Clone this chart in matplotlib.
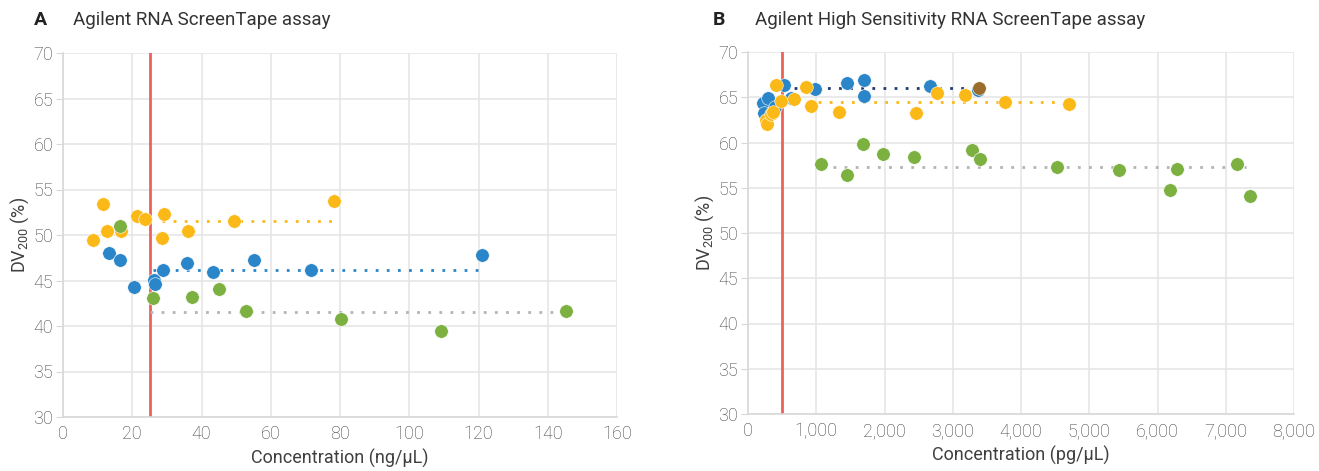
import numpy as np
import matplotlib.pyplot as plt

plt.rcParams['font.family'] = ['Roboto', 'DejaVu Sans']
plt.rcParams['font.weight'] = 'light'

# Panel A: Agilent RNA ScreenTape (ng/uL)
a_yellow_x = [8.7, 11.6, 12.7, 16.8, 21.4, 23.7, 29.2, 28.6, 36.1, 49.4, 78.3]
a_yellow_y = [49.5, 53.4, 50.4, 50.4, 52.1, 51.8, 52.3, 49.7, 50.4, 51.5, 53.7]
a_blue_x = [13.3, 16.5, 20.5, 26.3, 26.6, 28.9, 35.8, 43.3, 55.2, 71.6, 121.0]
a_blue_y = [48.0, 47.3, 44.3, 45.1, 44.6, 46.2, 46.9, 45.9, 47.3, 46.1, 47.8]
a_green_x = [16.5, 26.0, 37.3, 45.1, 52.9, 80.3, 109.2, 145.3]
a_green_y = [51.0, 43.1, 43.2, 44.1, 41.6, 40.8, 39.5, 41.6]
a_means = [(28.5, 78.5, 51.5), (26.0, 121.0, 46.2), (25.0, 145.0, 41.5)]
a_cutoff = 25

# Panel B: Agilent High Sensitivity RNA ScreenTape (pg/uL)
b_blue_x = [215, 297, 234, 396, 532, 626, 982, 1446, 1700, 1704, 2667, 3374]
b_blue_y = [64.4, 64.9, 63.3, 63.9, 66.3, 64.9, 65.9, 66.6, 66.9, 65.1, 66.2, 65.8]
b_yellow_x = [405, 264, 274, 340, 370, 488, 674, 850, 928, 1338, 2462, 2774, 3184, 3766, 4703]
b_yellow_y = [66.3, 62.5, 62.0, 63.1, 63.4, 64.6, 64.8, 66.1, 64.0, 63.4, 63.3, 65.5, 65.2, 64.5, 64.2]
b_green_x = [1065, 1455, 1680, 1973, 2432, 3277, 3399, 4532, 5436, 6188, 6281, 7165, 7355]
b_green_y = [57.6, 56.4, 59.8, 58.7, 58.4, 59.2, 58.2, 57.3, 57.0, 54.7, 57.1, 57.6, 54.1]
b_overlap_x = [3380]
b_overlap_y = [66.0]
b_means = [(510, 3370, 66.0), (860, 4600, 64.5), (1240, 7300, 57.3)]
b_cutoff = 500

BLUE = '#2a86c8'
YELLOW = '#fbb918'
GREEN = '#7cb040'
RED = '#f0605a'
GRAY = '#b4b4b4'
NAVY = '#1f3a70'
TXT = '#404040'

fig = plt.figure(figsize=(13.19, 4.71), dpi=100)
axA = fig.add_axes([63/1319, 1-417/471, 554/1319, 364/471])
axB = fig.add_axes([748/1319, 1-414/471, 546/1319, 362/471])


def style(ax, xlim, xticks, xlabels, xlabel):
    ax.set_xlim(*xlim)
    ax.set_ylim(30, 70)
    ax.set_xticks(xticks)
    ax.set_xticklabels(xlabels)
    ax.set_yticks(range(30, 71, 5))
    ax.grid(True, color='#e6e6e6', linewidth=1.2, zorder=0)
    ax.set_axisbelow(True)
    for s in ['top', 'right']:
        ax.spines[s].set_visible(False)
    for s in ['left', 'bottom']:
        ax.spines[s].set_color('#d8d8d8')
        ax.spines[s].set_linewidth(1.2)
    ax.tick_params(axis='x', length=0, labelsize=13, labelcolor=TXT, pad=6)
    ax.tick_params(axis='y', length=5, color='#d8d8d8', labelsize=13, labelcolor=TXT, pad=2)
    ax.set_xlabel(xlabel, fontsize=13, color=TXT, labelpad=4, fontweight='normal')
    ax.set_ylabel(r'DV$_{\mathregular{200}}$ (%)', fontsize=13, color=TXT, labelpad=2)


ms = 95

# Panel A
style(axA, (0, 160), range(0, 161, 20), [str(v) for v in range(0, 161, 20)],
      'Concentration (ng/µL)')
axA.axvline(a_cutoff, color=RED, linewidth=2, zorder=2)
for (x0, x1, y), c in zip(a_means, [YELLOW, BLUE, GRAY]):
    axA.plot([x0, x1], [y, y], linestyle=(0, (1, 3)), color=c, linewidth=2, zorder=3)
axA.scatter(a_yellow_x, a_yellow_y, s=ms, color=YELLOW, edgecolors='white', linewidths=0.4, zorder=4)
axA.scatter(a_blue_x, a_blue_y, s=ms, color=BLUE, edgecolors='white', linewidths=0.4, zorder=4)
axA.scatter(a_green_x, a_green_y, s=ms, color=GREEN, edgecolors='white', linewidths=0.4, zorder=4)

# Panel B
style(axB, (0, 8000), range(0, 8001, 1000), [f'{v:,}' for v in range(0, 8001, 1000)],
      'Concentration (pg/µL)')
axB.axvline(b_cutoff, color=RED, linewidth=2, zorder=2)
for (x0, x1, y), c in zip(b_means, [NAVY, YELLOW, GRAY]):
    axB.plot([x0, x1], [y, y], linestyle=(0, (1, 3)), color=c, linewidth=2, zorder=3)
axB.scatter(b_blue_x, b_blue_y, s=ms, color=BLUE, edgecolors='white', linewidths=0.4, zorder=4)
axB.scatter(b_yellow_x, b_yellow_y, s=ms, color=YELLOW, edgecolors='white', linewidths=0.4, zorder=4)
axB.scatter(b_green_x, b_green_y, s=ms, color=GREEN, edgecolors='white', linewidths=0.4, zorder=4)
axB.scatter(b_overlap_x, b_overlap_y, s=ms, color='#9a6e2a', edgecolors='white', linewidths=0.4, zorder=5)

# Panel titles
fig.text(34/1319, 1-20/471, 'A', fontsize=14, fontweight='bold', color='#222222', va='center')
fig.text(73/1319, 1-20/471, 'Agilent RNA ScreenTape assay', fontsize=13.5,
         fontweight='normal', color='#333333', va='center')
fig.text(713/1319, 1-20/471, 'B', fontsize=14, fontweight='bold', color='#222222', va='center')
fig.text(755/1319, 1-20/471, 'Agilent High Sensitivity RNA ScreenTape assay', fontsize=13.5,
         fontweight='normal', color='#333333', va='center')

plt.savefig('out.png', dpi=100)
